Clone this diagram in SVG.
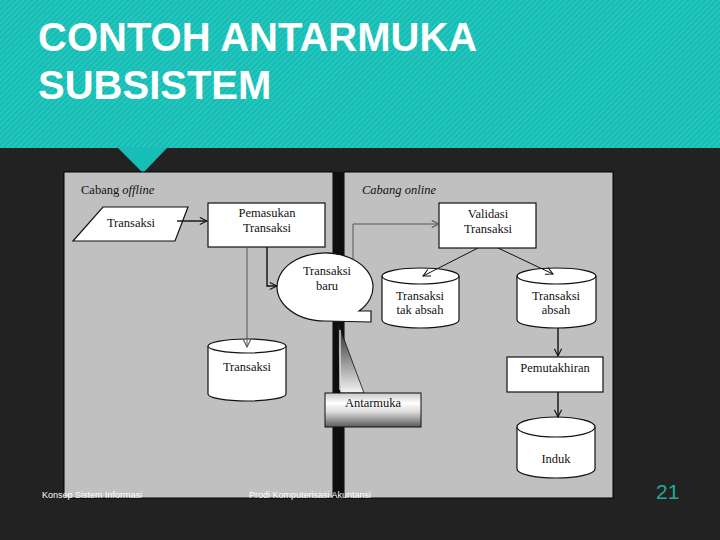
<svg xmlns="http://www.w3.org/2000/svg" width="720" height="540" viewBox="0 0 720 540">
  <defs>
    <pattern id="stripes" patternUnits="userSpaceOnUse" width="4" height="4" patternTransform="rotate(45)">
      <rect width="4" height="4" fill="#14bdb4"/>
      <rect width="1.6" height="4" fill="#2bc8bf"/>
    </pattern>
    <linearGradient id="wedgeGrad" x1="0" y1="0" x2="0" y2="1">
      <stop offset="0" stop-color="#1a1a1a"/>
      <stop offset="0.5" stop-color="#8a8a8a"/>
      <stop offset="1" stop-color="#f4f4f4"/>
    </linearGradient>
    <linearGradient id="boxGrad" x1="0" y1="0" x2="0" y2="1">
      <stop offset="0" stop-color="#c8c8c8"/>
      <stop offset="0.3" stop-color="#ffffff"/>
      <stop offset="0.55" stop-color="#dcdcdc"/>
      <stop offset="1" stop-color="#5a5a5a"/>
    </linearGradient>
    <marker id="arr" viewBox="0 0 10 10" refX="9" refY="5" markerWidth="9" markerHeight="9" markerUnits="userSpaceOnUse" orient="auto">
      <path d="M1,1 L9,5 L1,9" fill="none" stroke="#111" stroke-width="1.2"/>
    </marker>
    <marker id="arrg" viewBox="0 0 10 10" refX="9" refY="5" markerWidth="9" markerHeight="9" markerUnits="userSpaceOnUse" orient="auto">
      <path d="M1,1 L9,5 L1,9" fill="none" stroke="#555" stroke-width="1.2"/>
    </marker>
  </defs>
  <style>
    .title { font-family: "Liberation Sans", Arial, sans-serif; font-size: 40px; font-weight: bold; fill: #ffffff; }
    .foot { font-family: "Liberation Sans", Arial, sans-serif; font-size: 9px; fill: #ffffff; }
    .pg { font-family: "Liberation Sans", Arial, sans-serif; font-size: 21px; fill: #21a99b; }
    .lbl { font-family: "Liberation Serif", "Times New Roman", serif; font-size: 12.5px; fill: #111; text-anchor: middle; }
    .cap { font-family: "Liberation Serif", "Times New Roman", serif; font-size: 12.5px; fill: #111; }
    .shape { fill: #ffffff; stroke: #111; stroke-width: 1.2; }
    .con { fill: none; stroke: #111; stroke-width: 1.4; }
    .thin { fill: none; stroke: #111; stroke-width: 1; }
    .cong { fill: none; stroke: #555; stroke-width: 1; }
  </style>

  <!-- background -->
  <rect x="0" y="0" width="720" height="540" fill="#222222"/>
  <rect x="0" y="0" width="720" height="148" fill="url(#stripes)"/>
  <polygon points="117,147 168,147 143,173" fill="#17beb5"/>
  <text class="title" x="38" y="51">CONTOH ANTARMUKA</text>
  <text class="title" x="38" y="99">SUBSISTEM</text>

  <!-- panels -->
  <rect x="64" y="172" width="269" height="326" fill="#c0c0c0" stroke="#000" stroke-width="1"/>
  <rect x="344" y="172" width="269" height="326" fill="#c0c0c0" stroke="#000" stroke-width="1"/>
  <rect x="333" y="172" width="10" height="326" fill="#0e0e0e"/>

  <text class="cap" x="81" y="194">Cabang <tspan font-style="italic">offline</tspan></text>
  <text class="cap" x="362" y="194" font-style="italic">Cabang online</text>

  <g id="input-transaksi">
    <polygon class="shape" points="103,207 188,207 175,241 73,241"/>
    <text class="lbl" x="131" y="227">Transaksi</text>
  </g>

  <g id="pemasukan">
    <rect class="shape" x="208" y="203" width="117" height="44"/>
    <text class="lbl" x="267" y="217">Pemasukan</text>
    <text class="lbl" x="267" y="231.5">Transaksi</text>
  </g>

  <g id="validasi">
    <rect class="shape" x="439" y="203" width="97" height="45"/>
    <text class="lbl" x="488" y="218">Validasi</text>
    <text class="lbl" x="488" y="232.5">Transaksi</text>
  </g>

  <g id="antarmuka">
    <polygon points="338,323 364,393 340,393" fill="url(#wedgeGrad)" stroke="#111" stroke-width="0.8"/>
    <line x1="340" y1="330" x2="340" y2="390" stroke="#f0f0f0" stroke-width="1.2"/>
    <rect x="325" y="393" width="96" height="34" fill="url(#boxGrad)" stroke="#111" stroke-width="1"/>
    <text class="lbl" x="373" y="407">Antarmuka</text>
  </g>

  <g id="transaksi-baru">
    <path class="shape" d="M359,311 L371,311 L371,322 L325,321 A48,34 0 1 1 359,311 Z"/>
    <text class="lbl" x="327" y="275">Transaksi</text>
    <text class="lbl" x="327" y="290">baru</text>
  </g>

  <g id="db-transaksi">
    <path class="shape" d="M208,346 V394 A39,7 0 0 0 286,394 V346"/>
    <ellipse class="shape" cx="247" cy="346" rx="39" ry="7"/>
    <text class="lbl" x="247" y="371">Transaksi</text>
  </g>

  <g id="db-tak-absah">
    <path class="shape" d="M382,276 V320 A38.5,8 0 0 0 459,320 V276"/>
    <ellipse class="shape" cx="420.5" cy="276" rx="38.5" ry="8"/>
    <text class="lbl" x="420" y="299.5">Transaksi</text>
    <text class="lbl" x="420" y="314">tak absah</text>
  </g>

  <g id="db-absah">
    <path class="shape" d="M517,276 V320 A39.5,8 0 0 0 596,320 V276"/>
    <ellipse class="shape" cx="556.5" cy="276" rx="39.5" ry="8"/>
    <text class="lbl" x="556" y="299.5">Transaksi</text>
    <text class="lbl" x="556" y="314">absah</text>
  </g>

  <g id="pemutakhiran">
    <rect class="shape" x="507" y="357" width="96" height="35"/>
    <text class="lbl" x="555" y="372">Pemutakhiran</text>
  </g>

  <g id="db-induk">
    <path class="shape" d="M517,427 V469 A39,9 0 0 0 595,469 V427"/>
    <ellipse class="shape" cx="556" cy="427" rx="39" ry="10"/>
    <text class="lbl" x="556" y="463">Induk</text>
  </g>

  <!-- connectors -->
  <g id="connectors">
    <path class="con" d="M177,221 H207" marker-end="url(#arr)"/>
    <path class="con" d="M267,247 V286 H277" marker-end="url(#arr)"/>
    <path class="cong" d="M247,247 V347" marker-end="url(#arrg)"/>
    <path class="cong" d="M353,259 V224 H439" marker-end="url(#arrg)"/>
    <path class="thin" d="M478,248 L423,276" marker-end="url(#arr)"/>
    <path class="thin" d="M498,248 L553,274" marker-end="url(#arr)"/>
    <path class="con" d="M558,328 V356" marker-end="url(#arr)"/>
    <path class="con" d="M558,392 V417" marker-end="url(#arr)"/>
  </g>

  <!-- footer -->
  <text class="foot" x="42" y="498">Konsep Sistem Informasi</text>
  <text class="foot" x="249" y="498">Prodi Komputerisasi Akuntansi</text>
  <text class="pg" x="656" y="499">21</text>
</svg>
